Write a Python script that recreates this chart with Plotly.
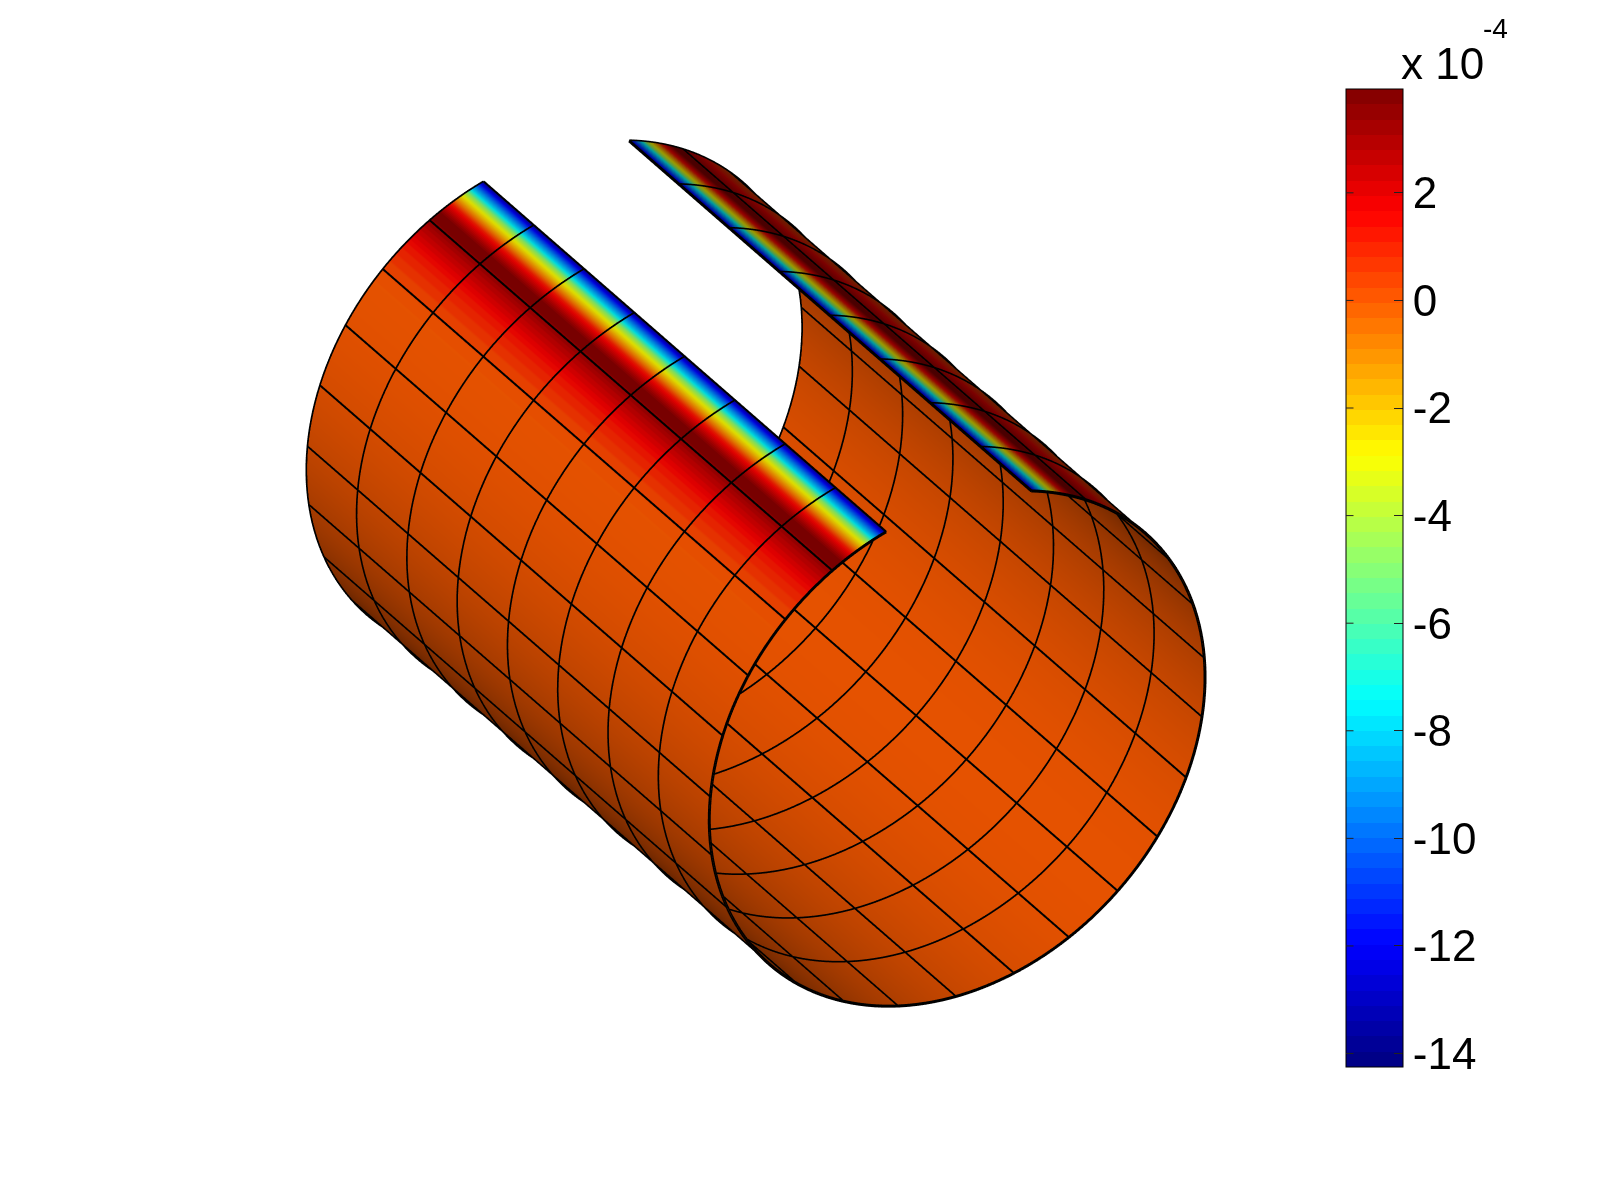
import numpy as np
import plotly.graph_objects as go

# --- values -----------------------------------------------------------------
edge_offset_deg = [0, 1, 2, 3, 4, 5, 6, 7, 8, 9, 10, 11, 12, 13, 14, 15, 16, 18, 20, 22, 24, 26, 28]
edge_value = [-14.0, -11.5, -9.5, -7.7, -5.0, -3.3, -2.0, -0.6, 1.0, 2.0, 2.9, 3.7, 3.9, 3.6, 3.2,
              2.8, 2.5, 1.9, 1.3, 0.9, 0.6, 0.3, 0.1]
mid_value = -0.1
cmin, cmax = -14.25, 3.93
tick_vals = [2, 0, -2, -4, -6, -8, -10, -12, -14]
tick_text = ["2", "0", "-2", "-4", "-6", "-8", "-10", "-12", "-14"]

# geometry of the slit shell
radius = 1.0
half_length = 1.41
theta_start_deg = 65.9
theta_span_deg = 325.9
n_circ = 24
n_axial = 8

# view frame, data coordinates
eye_dir = np.array([0.75, 0.0, 0.661])
up_dir = np.array([-0.434, 0.754, 0.492])
eye_dist = 2.0
light_dir = np.array([0.0, -0.1, -1.0])
aspect_k = 1.157
SCENE_X = [0.0, 0.9347]
SCENE_Y = [0.0575, 1.0]

CB_LEFT, CB_TOP, CB_W, CB_H = 1338, 81, 57, 978
PAGE_W, PAGE_H = 1600, 1200

# --- grid ---------------------------------------------------------------------
mid_off = np.arange(30.0, theta_span_deg - 29.0, 2.0)
off = np.array(edge_offset_deg + list(mid_off) + [theta_span_deg - o for o in edge_offset_deg[::-1]])
val = np.array(edge_value + [mid_value] * len(mid_off) + edge_value[::-1])
th = np.radians(theta_start_deg + off)
ax = np.linspace(-half_length, half_length, n_axial + 1)
X = np.repeat(ax[:, None], len(th), axis=1)
Y = radius * np.repeat(np.cos(th)[None, :], len(ax), axis=0)
Z = radius * np.repeat(np.sin(th)[None, :], len(ax), axis=0)
C = np.repeat(val[None, :], len(ax), axis=0)


def jet(t):
    r = np.clip(1.5 - abs(4 * t - 3), 0, 1)
    g = np.clip(1.5 - abs(4 * t - 2), 0, 1)
    b = np.clip(1.5 - abs(4 * t - 1), 0, 1)
    return f"rgb({int(r*255)},{int(g*255)},{int(b*255)})"


N = 64
cs = []
for i in range(N):
    c = jet((i + 0.5) / N)
    cs += [[i / N, c], [(i + 1) / N, c]]

fig = go.Figure()
light = light_dir * 1e4
fig.add_trace(go.Surface(
    x=X, y=Y, z=Z, surfacecolor=C, cmin=cmin, cmax=cmax, colorscale=cs,
    hoverinfo="skip",
    lighting=dict(ambient=0.37, diffuse=0.68, specular=0.0, roughness=1.0, fresnel=0.0),
    lightposition=dict(x=float(light[0]), y=float(light[1]), z=float(light[2])),
    colorbar=dict(
        thicknessmode="pixels", thickness=CB_W, lenmode="pixels", len=CB_H,
        x=CB_LEFT / PAGE_W, xanchor="left", xpad=0, y=1 - CB_TOP / PAGE_H, yanchor="top", ypad=0,
        tickmode="array", tickvals=tick_vals, ticktext=tick_text,
        ticks="inside", ticklen=9, tickwidth=1, tickcolor="#222222",
        tickfont=dict(family="Liberation Sans", size=44, color="black"),
        outlinewidth=1, outlinecolor="black",
    ),
))

# mesh lines: one copy just outside the shell and one just inside, so each is
# seen from its own side of the surface
for r_off in (1.002, 0.998):
    xs, ys, zs = [], [], []
    ring_th = th
    for a in ax:
        xs += [a] * len(ring_th) + [None]
        ys += list(radius * r_off * np.cos(ring_th)) + [None]
        zs += list(radius * r_off * np.sin(ring_th)) + [None]
    for k in range(n_circ + 1):
        t = np.radians(theta_start_deg + theta_span_deg * k / n_circ)
        xs += [ax[0], ax[-1], None]
        ys += [radius * r_off * np.cos(t)] * 2 + [None]
        zs += [radius * r_off * np.sin(t)] * 2 + [None]
    fig.add_trace(go.Scatter3d(x=xs, y=ys, z=zs, mode="lines",
                               line=dict(color="black", width=4), hoverinfo="skip", showlegend=False))

axis_off = dict(visible=False, showgrid=False, zeroline=False, showticklabels=False, showbackground=False)
x_span = 2 * half_length * 1.02
yz_span = 2 * 1.02
norm = (x_span * yz_span * yz_span) ** (1 / 3)

# tick marks on the left side of the colour bar, as headless arrows
left_ticks = [
    dict(text="", xref="paper", yref="paper", x=CB_LEFT / PAGE_W,
         y=1 - (CB_TOP + (cmax - v) / (cmax - cmin) * CB_H) / PAGE_H,
         ax=9, ay=0, axref="pixel", ayref="pixel", showarrow=True, arrowhead=0, arrowwidth=1,
         arrowcolor="#222222", standoff=0)
    for v in tick_vals
]

fig.update_layout(
    width=PAGE_W, height=PAGE_H, margin=dict(l=0, r=0, t=0, b=0, pad=0),
    paper_bgcolor="white", showlegend=False,
    scene=dict(
        domain=dict(x=SCENE_X, y=SCENE_Y),
        aspectmode="manual",
        aspectratio=dict(x=aspect_k * x_span / norm, y=aspect_k * yz_span / norm, z=aspect_k * yz_span / norm),
        xaxis=dict(axis_off, range=[-half_length * 1.02, half_length * 1.02]),
        yaxis=dict(axis_off, range=[-1.02, 1.02]),
        zaxis=dict(axis_off, range=[-1.02, 1.02]),
        camera=dict(
            projection=dict(type="orthographic"),
            eye=dict(x=float(eye_dir[0] * eye_dist), y=float(eye_dir[1] * eye_dist), z=float(eye_dir[2] * eye_dist)),
            up=dict(x=float(up_dir[0]), y=float(up_dir[1]), z=float(up_dir[2])),
            center=dict(x=0, y=0, z=0),
        ),
    ),
    annotations=[
        dict(text="x 10", xref="paper", yref="paper", x=1391 / 1600, y=1 - 56 / 1200, xanchor="left", yanchor="middle",
             showarrow=False, font=dict(family="Liberation Sans", size=44, color="black")),
        dict(text="-4", xref="paper", yref="paper", x=1473 / 1600, y=1 - 21 / 1200, xanchor="left", yanchor="middle",
             showarrow=False, font=dict(family="Liberation Sans", size=28, color="black")),
    ] + left_ticks,
)
fig.write_html("out.html")
